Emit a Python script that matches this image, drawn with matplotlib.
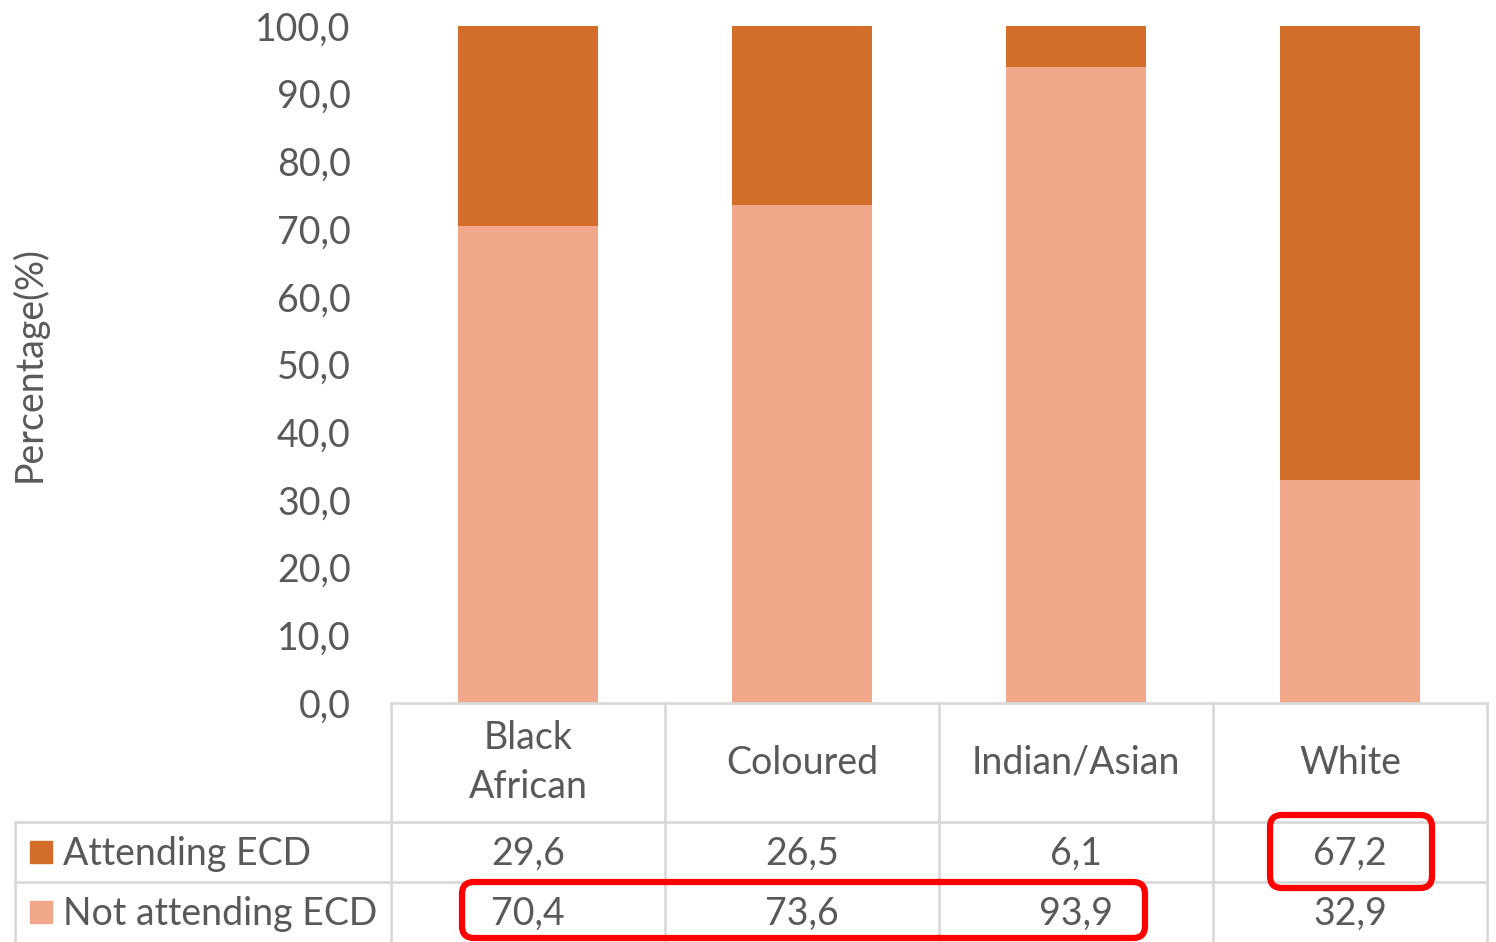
import matplotlib
matplotlib.use("Agg")
import matplotlib.pyplot as plt
from matplotlib.patches import FancyBboxPatch, Rectangle

categories = ["Black\nAfrican", "Coloured", "Indian/Asian", "White"]
series_names = ["Attending ECD", "Not attending ECD"]
attending = [29.6, 26.5, 6.1, 67.2]
not_attending = [70.4, 73.6, 93.9, 32.9]
yticks = [0, 10, 20, 30, 40, 50, 60, 70, 80, 90, 100]

dark = "#D26E2A"
light = "#F0A78A"
grey = "#D9D9D9"
txt = "#595959"

plt.rcParams["font.family"] = ["Lato", "DejaVu Sans"]
fs = 27

W, H = 1496, 942
fig = plt.figure(figsize=(W / 100, H / 100), dpi=100)

# plot area in pixel coords of the reference
left, right, top, bottom = 391, 1487, 26, 703
ax = fig.add_axes([left / W, 1 - bottom / H, (right - left) / W, (bottom - top) / H])
x = range(len(categories))
ax.bar(x, not_attending, width=0.51, color=light, zorder=2)
ax.bar(x, attending, width=0.51, bottom=not_attending, color=dark, zorder=2)
ax.set_xlim(-0.5, len(categories) - 0.5)
ax.set_ylim(0, 100)
ax.set_yticks(yticks)
ax.set_yticklabels([f"{v:.1f}".replace(".", ",") for v in yticks], fontsize=fs, color=txt)
ax.tick_params(axis="y", length=0, pad=29)
ax.set_xticks([])
for s in ["top", "right", "left"]:
    ax.spines[s].set_visible(False)
ax.spines["bottom"].set_color(grey)
ax.spines["bottom"].set_linewidth(2)
ax.set_ylabel("Percentage(%)", fontsize=fs, color=txt, labelpad=0)
ax.yaxis.set_label_coords(-343 / (right - left), 0.5)

# overlay in pixel coords for the data table
ov = fig.add_axes([0, 0, 1, 1], zorder=5)
ov.set_xlim(0, W)
ov.set_ylim(H, 0)
ov.axis("off")
ov.patch.set_alpha(0)

col_w = (right - left) / len(categories)
cols = [left + i * col_w for i in range(len(categories) + 1)]
r0, r1, r2, r3 = 703, 822, 882, 942
lw = 2
for cx in cols:
    ov.plot([cx, cx], [r0, r3], color=grey, lw=lw)
ov.plot([15, 15], [r1, r3], color=grey, lw=lw)
for ry in [r1, r2]:
    ov.plot([15, right], [ry, ry], color=grey, lw=lw)

for i, c in enumerate(categories):
    cx = (cols[i] + cols[i + 1]) / 2
    ov.text(cx, (r0 + r1) / 2, c, ha="center", va="center", fontsize=fs, color=txt, linespacing=1.45)
    ov.text(cx, (r1 + r2) / 2 + 2, f"{attending[i]:.1f}".replace(".", ","), ha="center", va="center",
            fontsize=fs, color=txt)
    ov.text(cx, (r2 + r3) / 2 + 2, f"{not_attending[i]:.1f}".replace(".", ","), ha="center", va="center",
            fontsize=fs, color=txt)

for ry, name, col in [((r1 + r2) / 2, series_names[0], dark), ((r2 + r3) / 2, series_names[1], light)]:
    ov.add_patch(Rectangle((30, ry - 11), 22, 22, color=col))
    ov.text(63, ry + 2, name, ha="left", va="center", fontsize=fs, color=txt)

# red highlight boxes
for (x0, y0, x1, y1) in [(462, 882, 1145, 938), (1270, 815, 1432, 888)]:
    ov.add_patch(FancyBboxPatch((x0, y0), x1 - x0, y1 - y0,
                                boxstyle="round,pad=0,rounding_size=12",
                                fill=False, ec="#FF0000", lw=4.5, zorder=4))

fig.savefig("out.png", dpi=100)
